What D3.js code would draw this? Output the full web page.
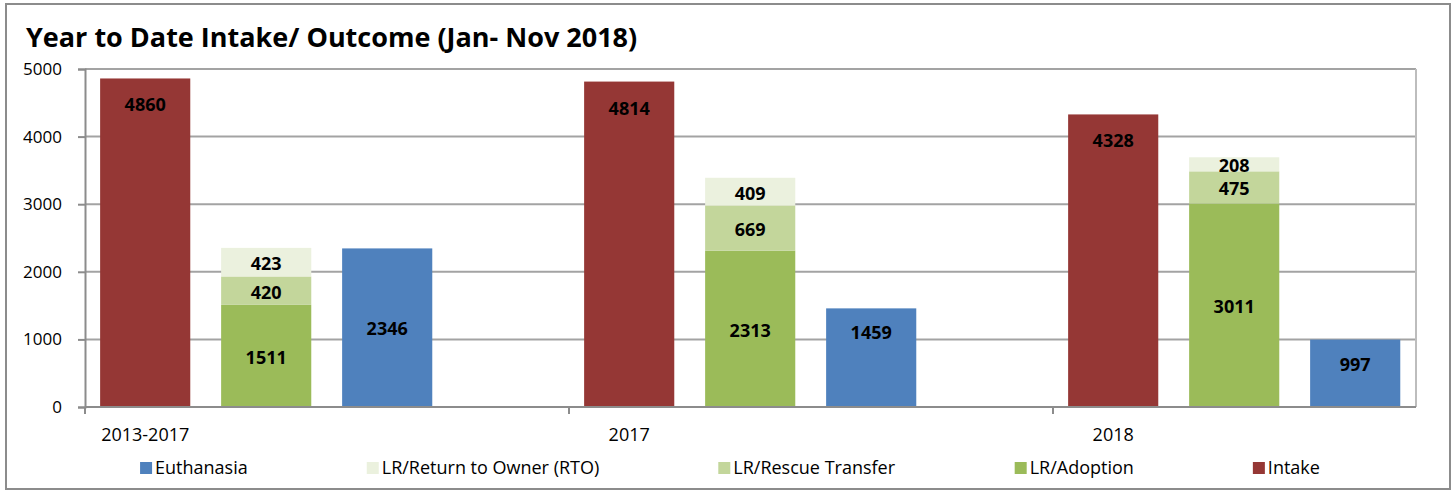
<!DOCTYPE html>
<html>
<head>
<meta charset="utf-8">
<script src="https://cdn.jsdelivr.net/npm/d3@7"></script>
<style>
  body { margin: 0; background: #fff; }
  svg { display: block; }
  text { font-family: "Open Sans", "Noto Sans", sans-serif; }
</style>
</head>
<body>
<svg id="chart"></svg>
<script>
// data
const groups = ["2013-2017", "2017", "2018"];
const intake = [4860, 4814, 4328];
const adoption = [1511, 2313, 3011];
const rescue = [420, 669, 475];
const rto = [423, 409, 208];
const euthanasia = [2346, 1459, 997];
const euthLabelPos = ["center", "end", "end"];
const yTicks = [0, 1000, 2000, 3000, 4000, 5000];

const legendItems = [
    {name: "Euthanasia", color: "#4F81BD"},
    {name: "LR/Return to Owner (RTO)", color: "#EBF1DE"},
    {name: "LR/Rescue Transfer", color: "#C3D69B"},
    {name: "LR/Adoption", color: "#9BBB59"},
    {name: "Intake", color: "#953735"}
];

const width = 1456, height = 494;
const margin = {top: 69, left: 85, right: 40, bottom: 87};
const innerW = width - margin.left - margin.right;
const innerH = height - margin.top - margin.bottom;

const svg = d3.select("#chart").attr("width", width).attr("height", height);

// outer frame
svg.append("rect")
    .attr("x", 6).attr("y", 4)
    .attr("width", width - 12).attr("height", height - 9)
    .attr("fill", "#fff")
    .attr("stroke", "#8c8c8c")
    .attr("stroke-width", 2);

svg.append("text")
    .attr("x", 26).attr("y", 47)
    .attr("font-size", "27px")
    .attr("font-weight", "bold")
    .text("Year to Date Intake/ Outcome (Jan- Nov 2018)");

const chart = svg.append("g").attr("transform", `translate(${margin.left},${margin.top})`);

// 4 slots per group, the last group's empty slot falls outside the plot
const slots = ["intake", "lr", "euth", "empty"];
const x0 = d3.scaleBand().domain(groups).range([0, innerW * 12 / 11]);
const x1 = d3.scaleBand().domain(slots).range([0, x0.bandwidth()]);
const barW = x1.bandwidth() * 0.745;
const barOff = x1.bandwidth() * 0.125;
const bx = (g, s) => x0(g) + x1(s) + barOff;

const y = d3.scaleLinear().domain([0, 5000]).range([innerH, 0]);

// gridlines
chart.append("g")
    .selectAll("line")
    .data(yTicks.filter(d => d > 0))
    .join("line")
    .attr("x1", 0).attr("x2", innerW)
    .attr("y1", d => y(d)).attr("y2", d => y(d))
    .attr("stroke", "#a3a3a3")
    .attr("stroke-width", 2);

// right plot border
chart.append("line")
    .attr("x1", innerW).attr("x2", innerW)
    .attr("y1", 0).attr("y2", innerH)
    .attr("stroke", "#bdbdbd")
    .attr("stroke-width", 2);

// intake bars
chart.append("g")
    .selectAll("rect")
    .data(groups)
    .join("rect")
    .attr("x", g => bx(g, "intake"))
    .attr("width", barW)
    .attr("y", (g, i) => y(intake[i]))
    .attr("height", (g, i) => y(0) - y(intake[i]))
    .attr("fill", "#953735");

// stacked LR bars
const stackRows = groups.map((g, i) => ({group: g, adoption: adoption[i], rescue: rescue[i], rto: rto[i]}));
const stack = d3.stack().keys(["adoption", "rescue", "rto"])(stackRows);
const stackColor = {adoption: "#9BBB59", rescue: "#C3D69B", rto: "#EBF1DE"};

const layers = chart.append("g")
    .selectAll("g")
    .data(stack)
    .join("g")
    .attr("fill", d => stackColor[d.key]);

layers.selectAll("rect")
    .data(d => d)
    .join("rect")
    .attr("x", d => bx(d.data.group, "lr"))
    .attr("width", barW)
    .attr("y", d => y(d[1]))
    .attr("height", d => y(d[0]) - y(d[1]));

// euthanasia bars
chart.append("g")
    .selectAll("rect")
    .data(groups)
    .join("rect")
    .attr("x", g => bx(g, "euth"))
    .attr("width", barW)
    .attr("y", (g, i) => y(euthanasia[i]))
    .attr("height", (g, i) => y(0) - y(euthanasia[i]))
    .attr("fill", "#4F81BD");

// data labels
const labels = chart.append("g")
    .attr("font-size", "18px")
    .attr("font-weight", "bold")
    .attr("text-anchor", "middle")
    .attr("dominant-baseline", "central")
    .attr("fill", "#000");

groups.forEach((g, i) => {
    labels.append("text")
        .attr("x", bx(g, "intake") + barW / 2)
        .attr("y", y(intake[i]) + 26)
        .text(intake[i]);
    const ey = euthLabelPos[i] === "center"
        ? (y(euthanasia[i]) + y(0)) / 2
        : y(euthanasia[i]) + 24;
    labels.append("text")
        .attr("x", bx(g, "euth") + barW / 2)
        .attr("y", ey)
        .text(euthanasia[i]);
});

stack.forEach(layer => {
    layer.forEach(d => {
        labels.append("text")
            .attr("x", bx(d.data.group, "lr") + barW / 2)
            .attr("y", (y(d[0]) + y(d[1])) / 2 + 1)
            .text(d[1] - d[0]);
    });
});

// y axis
const yAxis = chart.append("g")
    .call(d3.axisLeft(y).tickValues(yTicks).tickSize(7).tickPadding(16).tickFormat(d3.format("d")));
yAxis.select(".domain").attr("stroke", "#8c8c8c").attr("stroke-width", 2);
yAxis.selectAll(".tick line").attr("stroke", "#8c8c8c").attr("stroke-width", 2);
yAxis.selectAll(".tick text").attr("font-size", "17px").attr("fill", "#000")
    .style("font-family", "'Open Sans', 'Noto Sans', sans-serif");

// x axis
chart.append("line")
    .attr("x1", 0).attr("x2", innerW)
    .attr("y1", innerH).attr("y2", innerH)
    .attr("stroke", "#8c8c8c")
    .attr("stroke-width", 2);

chart.append("g")
    .selectAll("line")
    .data(groups)
    .join("line")
    .attr("x1", g => x0(g)).attr("x2", g => x0(g))
    .attr("y1", innerH).attr("y2", innerH + 7)
    .attr("stroke", "#8c8c8c")
    .attr("stroke-width", 2);

chart.append("g")
    .selectAll("text")
    .data(groups)
    .join("text")
    .attr("x", g => bx(g, "intake") + barW / 2)
    .attr("y", innerH + 34)
    .attr("text-anchor", "middle")
    .attr("font-size", "18px")
    .text(g => g);

// legend
const legend = svg.append("g").attr("font-size", "18px");
const items = legend.selectAll("g")
    .data(legendItems)
    .join("g");
items.append("rect")
    .attr("width", 12).attr("height", 12)
    .attr("y", -5)
    .attr("fill", d => d.color);
items.append("text")
    .attr("x", 15)
    .attr("dominant-baseline", "central")
    .text(d => d.name);

const gap = 119;
let cursor = 0;
items.each(function () {
    const w = this.getBBox().width;
    this.__x = cursor;
    cursor += w + gap;
});
const total = cursor - gap;
const startX = 730 - total / 2;
items.attr("transform", function () { return `translate(${startX + this.__x},467)`; });
</script>
</body>
</html>
